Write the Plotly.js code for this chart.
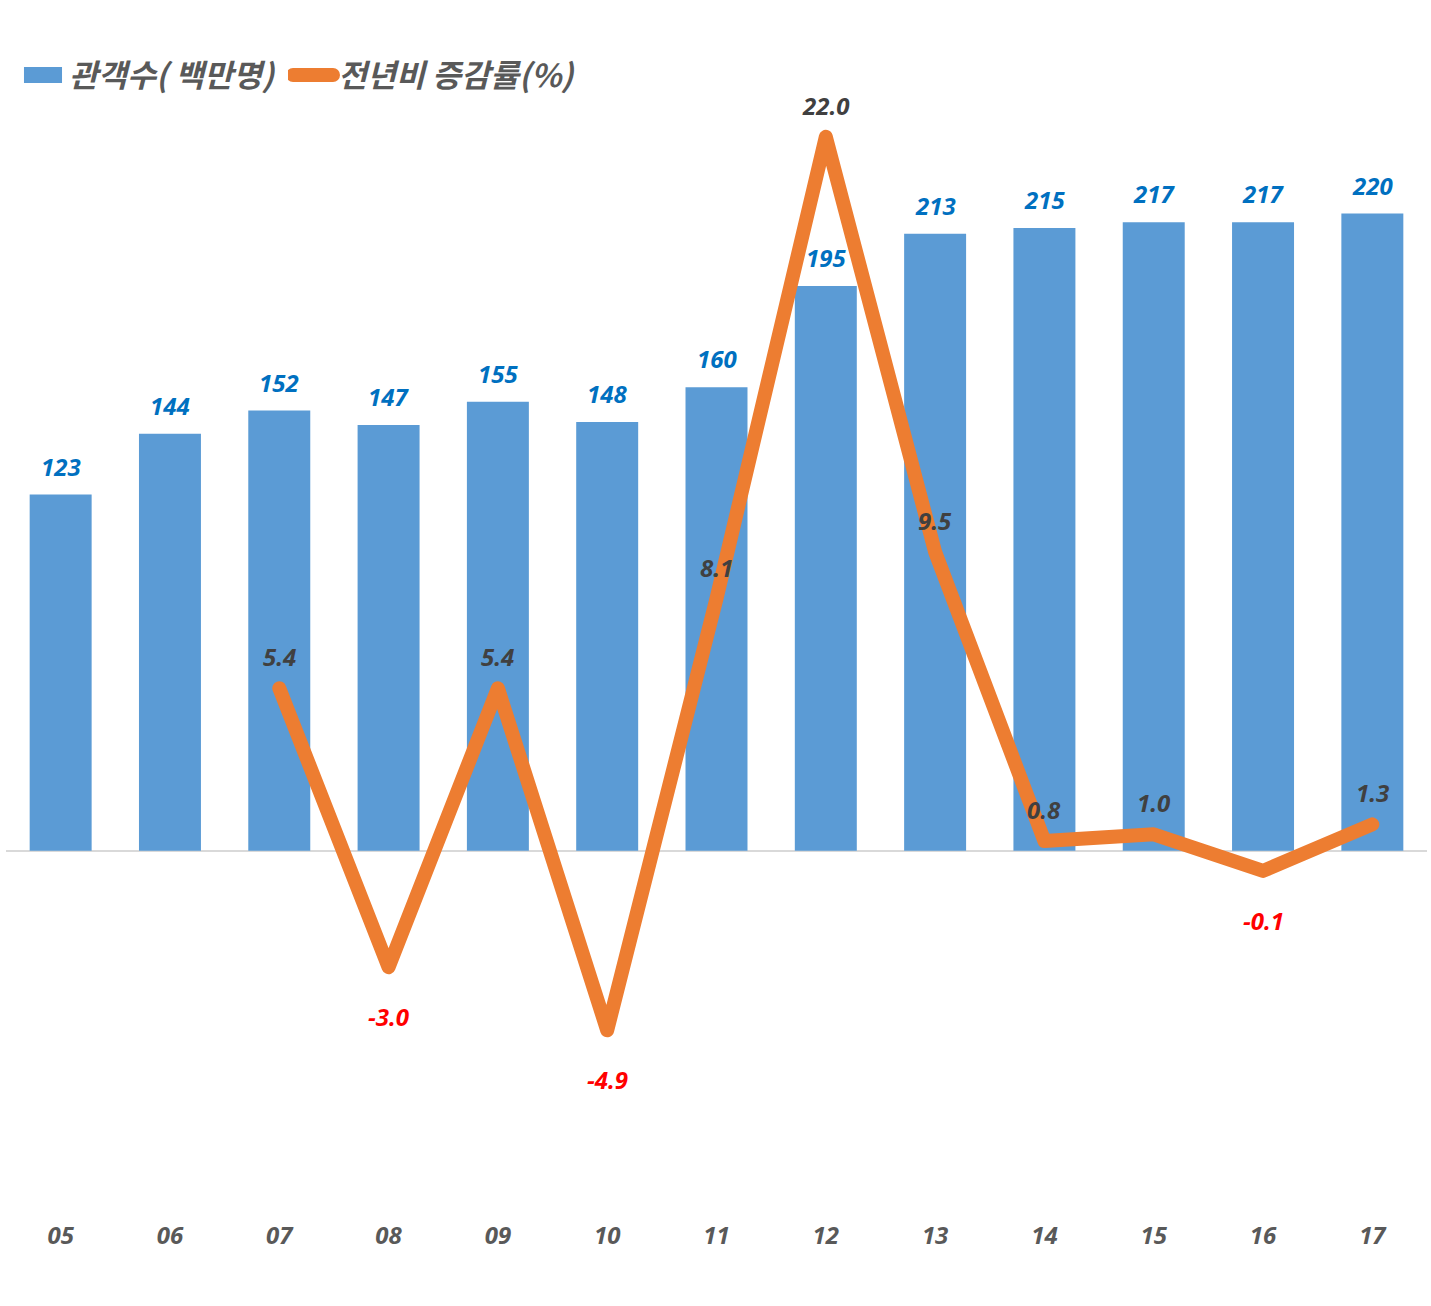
<!DOCTYPE html>
<html>
<head>
<meta charset="utf-8">
<script src="https://cdn.plot.ly/plotly-3.0.1.min.js"></script>
<style>
html,body{margin:0;padding:0;background:#fff;}
#chart{width:1431px;height:1306px;}
#chart .scatterlayer .js-line{stroke-linecap:round !important;stroke-linejoin:round !important;}
#chart .legendlines path{stroke-width:14px !important;stroke-linecap:round !important;}
#chart .legend .traces:nth-child(1) .legendpoints path{transform:translate(24px,0px) scale(3.17,1.33);}
</style>
</head>
<body>
<div id="chart"></div>
<script>
var years = ['05','06','07','08','09','10','11','12','13','14','15','16','17'];
var audience = [123,144,152,147,155,148,160,195,213,215,217,217,220];
var growth = [null,null,5.4,-3.0,5.4,-4.9,8.1,22.0,9.5,0.8,1.0,-0.1,1.3];
var seriesNames = ['관객수( 백만명)', '전년비 증감률(%)'];

var numFont = 'Open Sans, Lato, sans-serif';
var legendFont = {family: 'Noto Sans CJK KR, sans-serif', size: 31.5, color: '#595959', weight: 'bold', style: 'italic'};

var bars = {
  type: 'bar', x: years, y: audience, name: seriesNames[0], legend: 'legend',
  marker: {color: '#5B9BD5'}, width: 0.567, hoverinfo: 'skip'
};
var line = {
  type: 'scatter', mode: 'lines', x: years, y: growth, name: seriesNames[1], legend: 'legend2',
  yaxis: 'y2', line: {color: '#ED7D31', width: 14}, connectgaps: false, hoverinfo: 'skip'
};

var ann = [];
years.forEach(function(c, i){
  ann.push({x: i, y: audience[i], xref: 'x', yref: 'y', text: String(audience[i]),
    showarrow: false, yanchor: 'bottom', yshift: 10,
    font: {family: numFont, size: 24, color: '#0070C0', weight: 'bold', style: 'italic'}});
  var g = growth[i];
  if (g !== null) {
    var neg = g < 0;
    ann.push({x: i, y: g, xref: 'x', yref: 'y2', text: g.toFixed(1),
      showarrow: false, yanchor: neg ? 'top' : 'bottom', yshift: neg ? -31 : 13,
      font: {family: numFont, size: 24, color: neg ? '#FF0000' : '#404040', weight: 'bold', style: 'italic'}});
  }
});

var layout = {
  width: 1431, height: 1306,
  margin: {l: 6, r: 4, t: 100, b: 96},
  paper_bgcolor: '#fff', plot_bgcolor: '#fff',
  showlegend: true,
  legend: {orientation: 'h', xref: 'container', yref: 'container', x: 19/1431, y: 1 - 75/1306,
    xanchor: 'left', yanchor: 'middle', itemwidth: 40, font: legendFont},
  legend2: {orientation: 'h', xref: 'container', yref: 'container', x: 288/1431, y: 1 - 75/1306,
    xanchor: 'left', yanchor: 'middle', itemwidth: 40, font: legendFont},
  xaxis: {type: 'category', range: [-0.5, 12.5], showline: false, showgrid: false, zeroline: false, ticks: '',
    ticklabelstandoff: 9,
    tickfont: {family: numFont, size: 24, color: '#595959', weight: 'bold', style: 'italic'}},
  yaxis: {range: [-124.0, 258.5], showticklabels: false, showgrid: false,
    zeroline: true, zerolinecolor: '#D9D9D9', zerolinewidth: 2},
  yaxis2: {range: [-10.31, 23.05], overlaying: 'y', side: 'right', showticklabels: false,
    showgrid: false, zeroline: false},
  annotations: ann
};

Plotly.newPlot('chart', [bars, line], layout, {displayModeBar: false, staticPlot: true});
</script>
</body>
</html>
